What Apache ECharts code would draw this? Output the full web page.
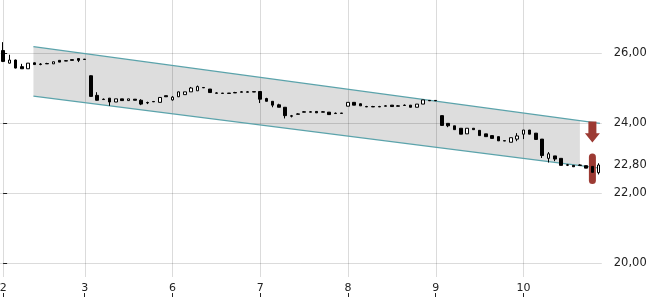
<!DOCTYPE html>
<html>
<head>
<meta charset="utf-8">
<script src="https://cdn.jsdelivr.net/npm/echarts@6/dist/echarts.min.js"></script>
<style>html,body{margin:0;padding:0;background:#fff}#c{width:650px;height:300px}</style>
</head>
<body>
<div id="c"></div>
<script>
// ---- data ----
const days = ['2', '3', '6', '7', '8', '9', '10'];
const candlesPerDay = [13, 14, 14, 14, 14, 14, 13];
// [open, close, low, high]
const candles = [
  [26.07,25.76,25.74,26.31],[25.71,25.80,25.70,25.95],[25.80,25.57,25.56,25.81],[25.61,25.55,25.55,25.69],
  [25.55,25.71,25.55,25.71],[25.72,25.67,25.66,25.73],[25.685,25.675,25.65,25.71],[25.70,25.69,25.69,25.72],
  [25.69,25.75,25.69,25.75],[25.79,25.74,25.74,25.79],[25.78,25.77,25.77,25.80],[25.81,25.79,25.79,25.81],
  [25.84,25.79,25.74,25.84],[25.825,25.815,25.815,25.825],
  [25.35,24.76,24.75,25.36],[24.79,24.65,24.64,24.88],[24.68,24.67,24.67,24.70],[24.71,24.60,24.49,24.71],
  [24.60,24.69,24.60,24.69],[24.69,24.64,24.64,24.69],[24.64,24.69,24.64,24.69],[24.68,24.65,24.65,24.68],
  [24.65,24.54,24.51,24.68],[24.585,24.575,24.54,24.61],[24.615,24.605,24.605,24.615],[24.59,24.73,24.59,24.73],
  [24.78,24.75,24.75,24.78],[24.66,24.74,24.64,24.77],
  [24.75,24.89,24.74,24.90],[24.81,24.89,24.81,24.89],[24.89,25.00,24.89,25.03],[24.92,25.04,24.92,25.07],
  [25.015,25.005,25.005,25.015],[24.97,24.87,24.87,24.97],[24.86,24.85,24.85,24.88],[24.855,24.845,24.845,24.855],
  [24.855,24.845,24.845,24.855],[24.87,24.86,24.86,24.89],[24.89,24.88,24.88,24.91],[24.89,24.88,24.88,24.91],
  [24.895,24.885,24.885,24.895],[24.90,24.68,24.57,24.90],
  [24.70,24.62,24.62,24.72],[24.62,24.51,24.45,24.62],[24.52,24.45,24.45,24.55],[24.45,24.21,24.13,24.45],
  [24.205,24.195,24.16,24.23],[24.26,24.25,24.25,24.28],[24.32,24.31,24.31,24.34],[24.32,24.31,24.31,24.34],
  [24.33,24.29,24.29,24.33],[24.32,24.31,24.31,24.34],[24.31,24.24,24.24,24.31],[24.28,24.27,24.27,24.30],
  [24.285,24.275,24.275,24.285],[24.48,24.59,24.48,24.59],
  [24.59,24.51,24.51,24.60],[24.55,24.49,24.49,24.56],[24.47,24.46,24.46,24.49],[24.47,24.46,24.46,24.49],
  [24.47,24.46,24.46,24.49],[24.49,24.48,24.48,24.51],[24.51,24.47,24.47,24.51],[24.49,24.48,24.48,24.51],
  [24.51,24.50,24.50,24.53],[24.51,24.45,24.45,24.51],[24.45,24.54,24.45,24.54],[24.54,24.66,24.54,24.66],
  [24.645,24.635,24.635,24.645],[24.645,24.635,24.635,24.645],
  [24.21,23.93,23.93,24.21],[23.99,23.92,23.88,23.99],[23.92,23.81,23.81,23.92],[23.85,23.68,23.68,23.85],
  [23.69,23.85,23.69,23.85],[23.85,23.81,23.81,23.85],[23.79,23.64,23.64,23.80],[23.69,23.61,23.61,23.69],
  [23.64,23.56,23.56,23.64],[23.61,23.49,23.49,23.61],[23.495,23.485,23.485,23.495],[23.45,23.58,23.45,23.58],
  [23.54,23.63,23.48,23.71],[23.68,23.80,23.54,23.80],
  [23.80,23.68,23.68,23.80],[23.71,23.53,23.53,23.71],[23.54,23.07,23.00,23.54],[22.99,23.12,22.87,23.17],
  [23.06,22.97,22.91,23.06],[22.99,22.79,22.79,22.99],[22.805,22.795,22.77,22.83],[22.79,22.75,22.75,22.79],
  [22.80,22.79,22.79,22.82],[22.78,22.71,22.71,22.78],[22.76,22.59,22.59,22.76],[22.58,22.80,22.53,22.85]
];
const yTickValues = [20, 22, 24, 26];
const lastPrice = 22.80;
// trend channel: [start index, end index], values at those ends
const channelIdx = [4.83, 95.2];
const channelUpper = [26.18, 23.99];
const channelLower = [24.77, 22.71];
const channelFillEndIdx = 92.0;
// signal markers at candle index 94
const signalIdx = 94;
const arrowValues = [24.04, 23.71, 23.44]; // top, head start, tip
const rangeBar = [23.13, 22.26];

// ---- derived ----
const categories = [];
const labelIdx = [];
days.forEach((d, di) => {
  labelIdx.push(categories.length);
  for (let k = 0; k < candlesPerDay[di]; k++) categories.push(d + '.' + k);
});
const N = categories.length;
const lerp = (a, b, t) => a + (b - a) * t;
const chanAt = (arr, idx) => lerp(arr[0], arr[1], (idx - channelIdx[0]) / (channelIdx[1] - channelIdx[0]));
const showLabel = (i) => labelIdx.indexOf(i) >= 0;

const FONT = 'DejaVu Sans';
const TXT = '#222';
const GRID = 'rgba(0,0,0,0.14)';
const RED = '#9c3a33';

const chart = echarts.init(document.getElementById('c'), null, {renderer: 'canvas'});
chart.setOption({
  animation: false,
  backgroundColor: '#fff',
  grid: {left: 0, right: 48.2, top: 0, bottom: 23, containLabel: false, outerBoundsMode: 'none'},
  xAxis: [
    {type: 'category', data: categories, boundaryGap: true,
     axisLine: {show: false}, axisTick: {show: false}, splitLine: {show: false},
     axisLabel: {interval: (i) => showLabel(i), formatter: (v) => v.split('.')[0],
       margin: 6, fontSize: 11, color: TXT, fontFamily: FONT}},
    {type: 'value', min: -0.5, max: N - 0.5, show: false},
    {type: 'category', data: categories, boundaryGap: true, position: 'bottom', offset: 20,
     axisLine: {show: false}, axisLabel: {show: false}, splitLine: {show: false},
     axisTick: {show: true, inside: true, length: 4, alignWithLabel: true,
       interval: (i) => showLabel(i), lineStyle: {color: TXT}}}
  ],
  yAxis: {type: 'value', position: 'right', min: 19.6, max: 19.6 + 277 / 35, scale: true,
    splitLine: {show: false}, axisLine: {show: false},
    axisTick: {show: true, length: 4, customValues: yTickValues, lineStyle: {color: TXT}},
    axisLabel: {customValues: yTickValues.concat([lastPrice]), margin: 12, fontSize: 11.5,
      color: TXT, fontFamily: FONT, formatter: (v) => v.toFixed(2).replace('.', ',')}},
  series: [
    {type: 'custom', xAxisIndex: 1, silent: true, data: [[0, 0]],
     renderItem: (p, api) => {
       const a = api.coord([channelIdx[0], channelUpper[0]]);
       const b = api.coord([channelFillEndIdx, chanAt(channelUpper, channelFillEndIdx)]);
       const c = api.coord([channelFillEndIdx, chanAt(channelLower, channelFillEndIdx)]);
       const d = api.coord([channelIdx[0], channelLower[0]]);
       return {type: 'polygon', shape: {points: [a, b, c, d]}, style: {fill: '#dddddd'}};
     }},
    {type: 'custom', xAxisIndex: 1, silent: true, data: labelIdx.map(i => [i, 24]),
     renderItem: (p, api) => {
       const cs = p.coordSys;
       const x = Math.round(api.coord([api.value(0), 24])[0]) + 0.5;
       return {type: 'line', shape: {x1: x, y1: cs.y, x2: x, y2: cs.y + cs.height},
         style: {stroke: GRID, lineWidth: 1}};
     }},
    {type: 'custom', xAxisIndex: 1, silent: true, data: yTickValues.map(v => [0, v]),
     renderItem: (p, api) => {
       const cs = p.coordSys;
       const y = Math.round(api.coord([0, api.value(1)])[1]) + 0.5;
       return {type: 'line', shape: {x1: cs.x, y1: y, x2: cs.x + cs.width, y2: y},
         style: {stroke: GRID, lineWidth: 1}};
     }},
    {type: 'custom', xAxisIndex: 1, silent: true, data: [[0, 0]],
     renderItem: (p, api) => {
       const u0 = api.coord([channelIdx[0], channelUpper[0]]), u1 = api.coord([channelIdx[1], channelUpper[1]]);
       const l0 = api.coord([channelIdx[0], channelLower[0]]), l1 = api.coord([channelIdx[1], channelLower[1]]);
       const st = {stroke: '#5ba3ab', lineWidth: 1.3};
       return {type: 'group', children: [
         {type: 'line', shape: {x1: u0[0], y1: u0[1], x2: u1[0], y2: u1[1]}, style: st},
         {type: 'line', shape: {x1: l0[0], y1: l0[1], x2: l1[0], y2: l1[1]}, style: st}
       ]};
     }},
    {type: 'custom', xAxisIndex: 1, silent: true, data: [[signalIdx, arrowValues[0]]],
     renderItem: (p, api) => {
       const top = api.coord([signalIdx, arrowValues[0]]);
       const head = api.coord([signalIdx, arrowValues[1]]);
       const tip = api.coord([signalIdx, arrowValues[2]]);
       const bt = api.coord([signalIdx, rangeBar[0]]);
       const bb = api.coord([signalIdx, rangeBar[1]]);
       const x = top[0];
       return {type: 'group', children: [
         {type: 'polygon', shape: {points: [
           [x - 4, top[1]], [x + 4, top[1]], [x + 4, head[1]], [x + 7.5, head[1]],
           [x, tip[1]], [x - 7.5, head[1]], [x - 4, head[1]]]}, style: {fill: RED}},
         {type: 'rect', shape: {x: x - 3.5, y: bt[1], width: 7, height: bb[1] - bt[1], r: 3.5},
          style: {fill: RED}}
       ]};
     }},
    {type: 'candlestick', xAxisIndex: 0, data: candles, barWidth: 3, clip: false,
     itemStyle: {color: '#ffffff', color0: '#000000', borderColor: '#000000', borderColor0: '#000000', borderWidth: 1}}
  ]
});
</script>
</body>
</html>
